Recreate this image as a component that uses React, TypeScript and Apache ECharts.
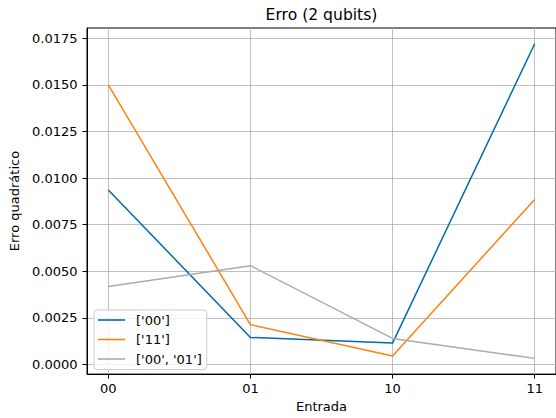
import React, { useEffect, useRef } from "react";
import * as echarts from "echarts";

const categories = ["00", "01", "10", "11"];
const series00 = [0.00936, 0.00145, 0.00115, 0.0172];
const series11 = [0.0150, 0.00214, 0.00046, 0.00885];
const series0001 = [0.00418, 0.0053, 0.0014, 0.00033];
const yTicks = [0, 0.0025, 0.005, 0.0075, 0.01, 0.0125, 0.015, 0.0175];
const seriesNames = ["['00']", "['11']", "['00', '01']"];
const colors = ["#006BA4", "#FF800E", "#ABABAB"];

const FONT = "DejaVu Sans";

export default function App() {
  const ref = useRef<HTMLDivElement>(null);
  useEffect(() => {
    document.body.style.margin = "0";
    if (!ref.current) return;
    const chart = echarts.init(ref.current, undefined, { renderer: "svg" });
    const xIdx = categories.map((_, i) => i);
    const mk = (vals: number[]) => vals.map((v, i) => [xIdx[i], v]);
    const allData = [series00, series11, series0001];
    const flat = allData.flat();
    const dmin = Math.min(...flat);
    const dmax = Math.max(...flat);
    const m = (dmax - dmin) * 0.05;
    chart.setOption({
      animation: false,
      color: colors,
      textStyle: { fontFamily: FONT },
      graphic: [
        {
          type: "text",
          x: 321.5,
          y: 7,
          style: {
            text: "Erro (2 qubits)",
            fontSize: 15.6,
            fontFamily: FONT,
            fill: "#000",
            align: "center",
            verticalAlign: "top",
          },
        },
      ],
      grid: {
        left: 87,
        right: 0,
        top: 28,
        bottom: 40,
        show: true,
        borderColor: "#000",
        borderWidth: 1,
        backgroundColor: "transparent",
      },
      legend: {
        orient: "vertical",
        left: 94,
        top: 310,
        padding: [2.5, 5, 3, 4],
        itemWidth: 27,
        itemHeight: 1.6,
        itemGap: 4.5,
        icon: "rect",
        backgroundColor: "rgba(255,255,255,0.8)",
        borderColor: "#cccccc",
        borderWidth: 1,
        borderRadius: 3,
        textStyle: {
          fontSize: 13,
          lineHeight: 15,
          fontFamily: FONT,
          color: "#000",
          padding: [0, 0, 0, 6],
        },
        data: seriesNames,
      },
      xAxis: {
        type: "value",
        min: -0.15,
        max: 3.15,
        name: "Entrada",
        nameLocation: "middle",
        nameGap: 25,
        nameTextStyle: { fontSize: 13, fontFamily: FONT, color: "#000" },
        axisLine: { show: true, onZero: false, lineStyle: { color: "#000", width: 1 } },
        axisTick: { show: true, length: 4.5, lineStyle: { color: "#000" }, customValues: xIdx },
        axisLabel: {
          customValues: xIdx,
          margin: 8,
          fontSize: 13,
          fontFamily: FONT,
          color: "#000",
          formatter: (v: number) => categories[Math.round(v)] ?? "",
        },
        splitLine: { show: true, lineStyle: { color: "#b0b0b0", width: 0.8 } },
      },
      yAxis: {
        type: "value",
        min: dmin - m,
        max: dmax + m,
        name: "Erro quadrático",
        nameLocation: "middle",
        nameRotate: 90,
        nameGap: 57,
        nameTextStyle: { fontSize: 13, fontFamily: FONT, color: "#000" },
        axisLine: { show: true, onZero: false, lineStyle: { color: "#000", width: 1 } },
        axisTick: { show: true, length: 4.5, lineStyle: { color: "#000" }, customValues: yTicks },
        axisLabel: {
          customValues: yTicks,
          margin: 9.5,
          fontSize: 13,
          fontFamily: FONT,
          color: "#000",
          formatter: (v: number) => v.toFixed(4),
        },
        splitLine: { show: true, lineStyle: { color: "#b0b0b0", width: 0.8 } },
      },
      series: allData.map((vals, i) => ({
        name: seriesNames[i],
        type: "line",
        data: mk(vals),
        symbol: "none",
        lineStyle: { width: 1.5, color: colors[i] },
        itemStyle: { color: colors[i] },
      })),
    });
    return () => chart.dispose();
  }, []);
  return <div ref={ref} style={{ width: 556, height: 418 }} />;
}
